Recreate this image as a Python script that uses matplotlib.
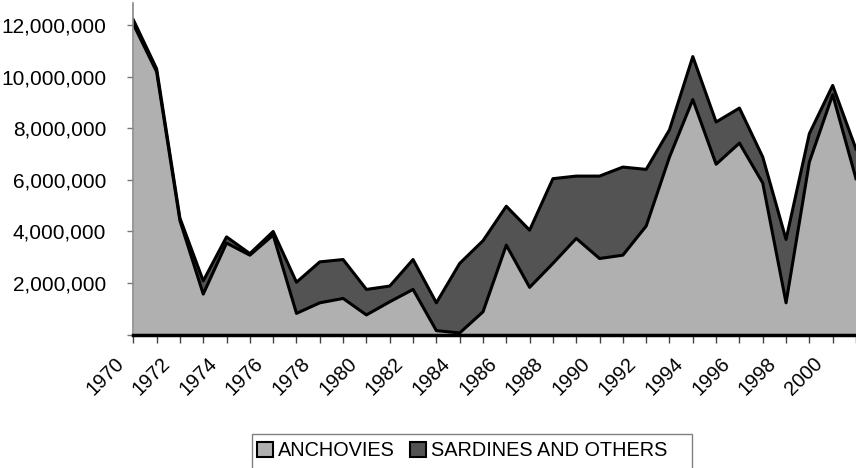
import numpy as np
import matplotlib.pyplot as plt
from matplotlib.patches import Patch, Rectangle
from matplotlib.ticker import FuncFormatter
from matplotlib.transforms import ScaledTranslation

plt.rcParams['font.family'] = ['Liberation Sans', 'DejaVu Sans']

# catch in tonnes
years = list(range(1970, 2002))
anchovies = [12.05e6, 10.20e6, 4.42e6, 1.57e6, 3.55e6, 3.08e6, 3.86e6, 0.82e6,
             1.23e6, 1.40e6, 0.76e6, 1.27e6, 1.75e6, 0.15e6, 0.06e6, 0.88e6,
             3.47e6, 1.83e6, 2.76e6, 3.73e6, 2.95e6, 3.08e6, 4.21e6, 6.89e6,
             9.12e6, 6.61e6, 7.43e6, 5.88e6, 1.23e6, 6.70e6, 9.31e6, 6.05e6]
sardines = [0.17e6, 0.12e6, 0.10e6, 0.51e6, 0.24e6, 0.06e6, 0.14e6, 1.21e6,
            1.59e6, 1.51e6, 0.99e6, 0.61e6, 1.16e6, 1.08e6, 2.70e6, 2.76e6,
            1.51e6, 2.22e6, 3.29e6, 2.42e6, 3.20e6, 3.42e6, 2.20e6, 1.06e6,
            1.67e6, 1.64e6, 1.36e6, 1.01e6, 2.46e6, 1.10e6, 0.36e6, 1.15e6]
series_names = ['ANCHOVIES', 'SARDINES AND OTHERS']
series_colors = ['#B0B0B0', '#535353']
yticks = [0, 2e6, 4e6, 6e6, 8e6, 10e6, 12e6]

anch = np.array(anchovies)
total = anch + np.array(sardines)

fig = plt.figure(figsize=(8.56, 4.68), dpi=100)
ax = fig.add_axes([133.3 / 856, 1 - 334.5 / 468, 1 - 133.3 / 856, 331.5 / 468])

ax.fill_between(years, 0, anch, color=series_colors[0], lw=0)
ax.fill_between(years, anch, total, color=series_colors[1], lw=0)
ax.plot(years, anch, color='black', lw=2.2)
ax.plot(years, total, color='black', lw=2.2)

ax.set_xlim(1970, 2000.9)
ax.set_ylim(0, 12.87e6)

ax.set_xticks(years)
ax.set_xticklabels([str(y) if y % 2 == 0 else '' for y in years],
                   rotation=45, ha='right', fontsize=14.4)
ax.set_yticks(yticks)
ax.yaxis.set_major_formatter(FuncFormatter(lambda v, p: '' if v == 0 else f'{v:,.0f}'))
ax.tick_params(axis='y', length=4.5, width=1, color='#777777', pad=15, labelsize=15)
ax.tick_params(axis='x', length=6, width=1, color='#444444', pad=8)
# nudge the rotated labels left so their ends sit a bit before the ticks
for lab in ax.get_xticklabels():
    lab.set_transform(lab.get_transform() + ScaledTranslation(-0.06, 0, fig.dpi_scale_trans))

for s in ['top', 'right']:
    ax.spines[s].set_visible(False)
ax.spines['left'].set_color('#888888')
ax.spines['left'].set_linewidth(1.2)
ax.spines['bottom'].set_color('black')
ax.spines['bottom'].set_linewidth(2.5)

handles = [Patch(facecolor=c, edgecolor='black', linewidth=1.5) for c in series_colors]
fig.legend(handles, series_names, loc='upper left', bbox_to_anchor=(256.7 / 856, 1 - 441 / 468),
           ncol=2, fontsize=14.3, frameon=False,
           handlelength=0.8, handleheight=0.8, handletextpad=0.25, columnspacing=0.8,
           borderpad=0, borderaxespad=0)
# legend box runs off the bottom edge like in the original
fig.add_artist(Rectangle((252 / 856, -0.05), 440 / 856, 34 / 468 + 0.05,
                         transform=fig.transFigure, fill=False, edgecolor='#808080', lw=1))

fig.savefig('out.png', dpi=100)
